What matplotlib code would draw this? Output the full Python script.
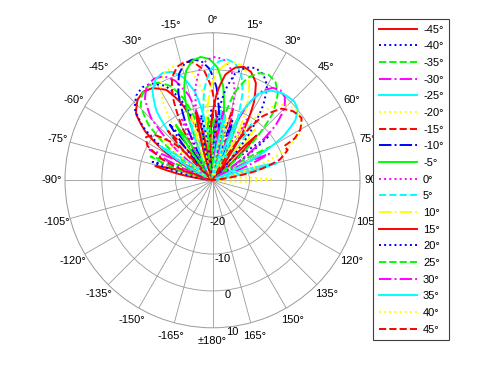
import numpy as np
import matplotlib
matplotlib.use("Agg")
import matplotlib.pyplot as plt

plt.rcParams['font.family'] = ['Liberation Sans', 'DejaVu Sans']

# Steering angles (legend labels)
steer = [-45, -40, -35, -30, -25, -20, -15, -10, -5, 0, 5, 10, 15, 20, 25, 30, 35, 40, 45]
labels = [f"{s}\u00b0" for s in steer]

# Beam pattern outlines: angle (deg, clockwise from top) and level (dB)
t_m45 = [-84, -76, -68, -65, -60, -54, -49, -43, -38, -33, -27, -22, -16, -11, -8, 0, 8]
r_m45 = [-30, -14, -30, -30, -16.5, -7.5, -2.5, -0.2, 0.5, -0.2, -2.5, -7.5, -16.5, -30, -30, -12, -30]
t_m40 = [-81, -73, -65, -63, -58, -52.5, -47.5, -42, -37, -32, -26.5, -21.5, -16, -11, -9, -1, 7]
r_m40 = [-30, -13, -30, -30, -15.4, -6.4, -1.4, 0.9, 1.6, 0.9, -1.4, -6.4, -15.4, -30, -30, -11, -30]
t_m35 = [-77, -69, -61, -59, -54, -49, -44, -39, -34, -29, -24, -19, -14, -9, -6, 1, 8]
r_m35 = [-30, -12, -30, -30, -16, -7, -2, 0.3, 1.0, 0.3, -2, -7, -16, -30, -30, -13, -30]
t_m30 = [-71, -64, -57, -54, -49, -44.5, -39.5, -35, -30, -25, -20.5, -15.5, -11, -6, -3, 4, 11]
r_m30 = [-30, -11, -30, -30, -15.2, -6.2, -1.2, 1.1, 1.8, 1.1, -1.2, -6.2, -15.2, -30, -30, -12, -30]
t_m25 = [-64, -57, -50, -48, -43.5, -39, -34, -29.5, -25, -20.5, -16, -11, -6.5, -2, 0, 7, 14]
r_m25 = [-30, -13, -30, -30, -14.9, -5.9, -0.9, 1.4, 2.1, 1.4, -0.9, -5.9, -14.9, -30, -30, -11, -30]
t_m20 = [-57, -50.5, -44, -41.5, -37, -32.5, -28.5, -24, -19.5, -15, -10.5, -6.5, -2, 2.5, 5, 11.5, 18]
r_m20 = [-30, -11, -30, -30, -14.4, -5.4, -0.4, 1.9, 2.6, 1.9, -0.4, -5.4, -14.4, -30, -30, -12, -30]
t_m15 = [-48, -42, -36, -34, -30, -25.5, -21.5, -17, -13, -9, -4.5, -0.5, 4, 8, 10, 16, 22]
r_m15 = [-30, -12, -30, -30, -14, -5, 0, 2.3, 3.0, 2.3, 0, -5, -14, -30, -30, -10, -30]
t_m10 = [-43.5, -37.5, -31.5, -29.5, -25.5, -21.5, -17.5, -13.5, -9.5, -5.5, -1.5, 2.5, 6.5, 10.5, 12.5, 18.5, 24.5]
r_m10 = [-30, -11, -30, -30, -13.8, -4.8, 0.2, 2.5, 3.2, 2.5, 0.2, -4.8, -13.8, -30, -30, -13, -30]
t_m5 = [-39.5, -33.5, -27.5, -25.5, -21.5, -17.5, -13.5, -9.5, -5.5, -1.5, 2.5, 6.5, 10.5, 14.5, 16.5, 22.5, 28.5]
r_m5 = [-30, -12, -30, -30, -13.4, -4.4, 0.6, 2.9, 3.6, 2.9, 0.6, -4.4, -13.4, -30, -30, -11, -30]
t_0 = [-32.5, -26.5, -20.5, -18.5, -14.5, -10.5, -6.5, -2.5, 1.5, 5.5, 9.5, 13.5, 17.5, 21.5, 23.5, 29.5, 35.5]
r_0 = [-30, -11, -30, -30, -13.5, -4.5, 0.5, 2.8, 3.5, 2.8, 0.5, -4.5, -13.5, -30, -30, -11, -30]
t_5 = [-27, -21, -15, -13, -9, -5, -1, 3, 7, 11, 15, 19, 23, 27, 29, 35, 41]
r_5 = [-30, -13, -30, -30, -14, -5, 0, 2.3, 3.0, 2.3, 0, -5, -14, -30, -30, -11, -30]
t_10 = [-24, -18, -12, -10, -6, -1.5, 2.5, 7, 11, 15, 19.5, 23.5, 28, 32, 34, 40, 46]
r_10 = [-30, -12, -30, -30, -14.4, -5.4, -0.4, 1.9, 2.6, 1.9, -0.4, -5.4, -14.4, -30, -30, -12, -30]
t_15 = [-19.5, -13.5, -7.5, -5.5, -1.5, 3, 7, 11.5, 15.5, 19.5, 24, 28, 32.5, 36.5, 38.5, 44.5, 50.5]
r_15 = [-30, -11, -30, -30, -15.1, -6.1, -1.1, 1.2, 1.9, 1.2, -1.1, -6.1, -15.1, -30, -30, -13, -30]
t_20 = [-16.5, -10, -3.5, -1, 3.5, 8, 12, 16.5, 21, 25.5, 30, 34, 38.5, 43, 45.5, 52, 58.5]
r_20 = [-30, -12, -30, -30, -14.4, -5.4, -0.4, 1.9, 2.6, 1.9, -0.4, -5.4, -14.4, -30, -30, -11, -30]
t_25 = [-11, -4, 3, 5, 9.5, 14, 19, 23.5, 28, 32.5, 37, 42, 46.5, 51, 53, 60, 67]
r_25 = [-30, -13, -30, -30, -14.6, -5.6, -0.6, 1.7, 2.4, 1.7, -0.6, -5.6, -14.6, -30, -30, -12, -30]
t_30 = [3, 9, 15, 17, 21, 25, 29, 33, 37, 41, 45, 49, 53, 57, 59, 65, 71]
r_30 = [-30, -11, -30, -30, -16.4, -7.4, -2.4, -0.1, 0.6, -0.1, -2.4, -7.4, -16.4, -30, -30, -13, -30]
t_35 = [4, 11, 18, 18, 23, 28, 33, 39, 46, 50, 54, 58, 62, 66, 69, 75, 81]
r_35 = [-30, -12, -30, -30, -10, -3.5, -1, 0.3, 0.8, 0.1, -2.2, -7.2, -16, -30, -30, -12, -30]
t_40 = [5, 13, 21, 24, 29.5, 35, 40, 45.5, 51, 56.5, 62, 67, 72.5, 78, 81, 89, 97]
r_40 = [-30, -13, -30, -30, -17.3, -8.3, -3.3, -1.0, -0.3, -1.0, -3.3, -8.3, -17.3, -30, -30, -14, -30]
t_45 = [-75, -68, -62, -57, -52, -46, -40, 27, 32.5, 38, 44, 49.5, 55, 60, 63, 64.5, 68, 73, 78, 83]
r_45 = [-30, -16, -10, -8.5, -10, -16, -30, -30, -18, -8, -3, -1.2, -0.5, -2.5, -5, -8.5, -8, -11, -18, -30]

thetas = [t_m45, t_m40, t_m35, t_m30, t_m25, t_m20, t_m15, t_m10, t_m5, t_0,
          t_5, t_10, t_15, t_20, t_25, t_30, t_35, t_40, t_45]
levels = [r_m45, r_m40, r_m35, r_m30, r_m25, r_m20, r_m15, r_m10, r_m5, r_0,
          r_5, r_10, r_15, r_20, r_25, r_30, r_35, r_40, r_45]

ring_values = [-20, -10, 0, 10]
angle_ticks = list(range(0, 360, 15))

colors = ['#ff0000', '#0000ff', '#00ff00', '#ff00ff', '#00ffff', '#ffff00']
styles = ['-', ':', '--', '-.']

W, H = 498, 374
fig = plt.figure(figsize=(W / 100, H / 100), dpi=100)
cx, cy, R = 212.5, 180.3, 147.5
ax = fig.add_axes([(cx - R) / W, (H - cy - R) / H, 2 * R / W, 2 * R / H], projection='polar')
ax.set_theta_zero_location('N')
ax.set_theta_direction(-1)
ax.set_rlim(-30, 10)

grid_col = '#9a9a9a'
ax.set_thetagrids(angle_ticks, labels=[''] * len(angle_ticks))
ax.set_rgrids([-20, -10, 0], labels=['', '', ''])
ax.grid(True, color=grid_col, lw=0.6, ls='-')
ax.spines['polar'].set_color(grid_col)
ax.spines['polar'].set_linewidth(0.7)
ax.tick_params(length=0)

for i, (t, r) in enumerate(zip(thetas, levels)):
    ln, = ax.plot(np.deg2rad(t), np.maximum(np.array(r, dtype=float), -30),
                  color=colors[i % 6], ls=styles[i % 4], lw=1.4, label=labels[i])
    # let the polar transform draw curved (spiral) segments between points
    ln.get_path()._interpolation_steps = 24

fs = 8
for a in angle_ticks:
    if a == 180:
        lab = '\u00b1180\u00b0'
    elif a > 180:
        lab = f"{a - 360}\u00b0"
    else:
        lab = f"{a}\u00b0"
    ax.text(np.deg2rad(a), 13.6, lab, ha='center', va='center', fontsize=fs,
            clip_on=False, zorder=1)

for v in ring_values:
    ax.text(np.deg2rad(172.5), v + 1.5, f"{v}", ha='center', va='center',
            fontsize=fs, clip_on=False)

leg = fig.legend(loc='upper left', bbox_to_anchor=(373 / W, 1 - 19 / H),
                 fontsize=fs, frameon=True, fancybox=False, framealpha=1,
                 handlelength=3.5, handletextpad=0.5, labelspacing=0.6,
                 borderpad=0.5, borderaxespad=0)
leg.get_frame().set_edgecolor('#404040')
leg.get_frame().set_linewidth(0.8)
leg.set_zorder(10)

fig.savefig('out.png', dpi=100)
